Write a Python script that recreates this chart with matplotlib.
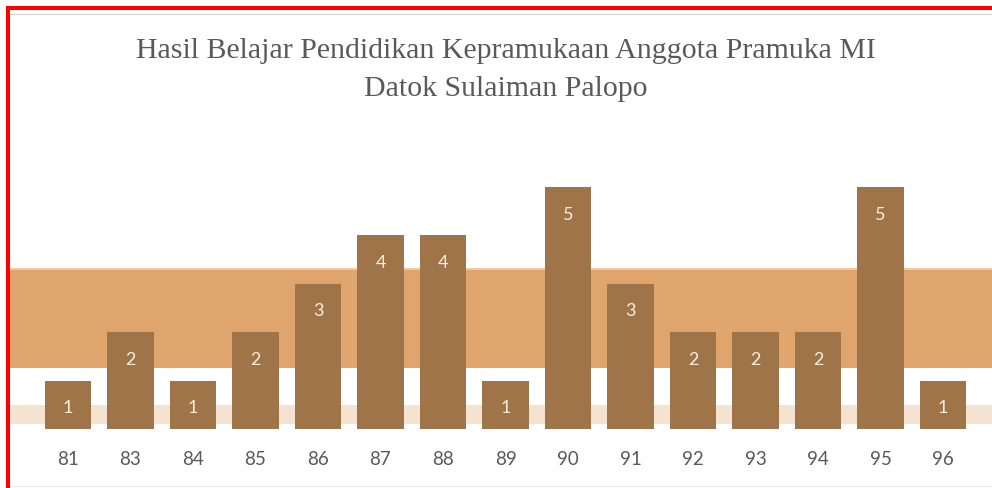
import matplotlib
matplotlib.use("Agg")
import matplotlib.pyplot as plt
from matplotlib.patches import Rectangle

# --------------------------------------------------------------------------
# data
# --------------------------------------------------------------------------
nilai = ["81", "83", "84", "85", "86", "87", "88", "89",
         "90", "91", "92", "93", "94", "95", "96"]
jumlah = [1, 2, 1, 2, 3, 4, 4, 1, 5, 3, 2, 2, 2, 5, 1]
judul = "Hasil Belajar Pendidikan Kepramukaan Anggota Pramuka MI\nDatok Sulaiman Palopo"

BAR_COLOR = "#a07449"
BAND_COLOR = "#e0a56c"
TEXT_GRAY = "#595959"

W, H = 992, 488
fig = plt.figure(figsize=(W / 100, H / 100), dpi=100)

# axes: x from px 10 to 992, baseline at px 429 from top
x0, x1 = 10, 992
y_base, y_top = 429, 14
ax = fig.add_axes([x0 / W, (H - y_base) / H, (x1 - x0) / W, (y_base - y_top) / H])
unit = 48.4
step = 62.5
ax.set_xlim(-(68 - x0) / step, 14 + (x1 - 943) / step)
ax.set_ylim(0, (y_base - y_top) / unit)

# background band + faint reflection near baseline
ax.axhspan(1.26, 3.33, color=BAND_COLOR, lw=0, zorder=0)
ax.axhspan(3.28, 3.33, color="#f3c99c", lw=0, zorder=0)
ax.axhspan(0.1, 0.5, color=BAND_COLOR, alpha=0.3, lw=0, zorder=0)

pos = range(len(nilai))
ax.bar(pos, jumlah, width=0.75, color=BAR_COLOR, zorder=2)
for i, v in zip(pos, jumlah):
    ax.text(i, v - 0.57, str(v), ha="center", va="center", color="#fbeedd",
            fontsize=13, family="Lato", zorder=3)

ax.set_xticks(list(pos))
ax.set_xticklabels(nilai, color=TEXT_GRAY, fontsize=13.5, family="Lato")
ax.tick_params(axis="x", length=0, pad=16)
ax.set_yticks([])
for s in ax.spines.values():
    s.set_visible(False)

fig.text(506 / W, 1 - 70 / H, judul, ha="center", va="center", color=TEXT_GRAY,
         fontsize=21.5, family="Liberation Serif", linespacing=1.55)

# frame: red left/top edge, thin gray inner lines
fig.add_artist(Rectangle((6 / W, 0), 4 / W, 1 - 6 / H, transform=fig.transFigure,
                         color="#ff0000", lw=0))
fig.add_artist(Rectangle((6 / W, 1 - 10 / H), 1, 4 / H, transform=fig.transFigure,
                         color="#ff0000", lw=0))
fig.add_artist(Rectangle((10 / W, 1 - 15 / H), 1, 1.5 / H, transform=fig.transFigure,
                         color="#d9d0c8", lw=0))
fig.add_artist(Rectangle((10 / W, 1 / H), 1, 1 / H, transform=fig.transFigure,
                         color="#f2e6e6", lw=0))

fig.savefig("out.png", dpi=100)
